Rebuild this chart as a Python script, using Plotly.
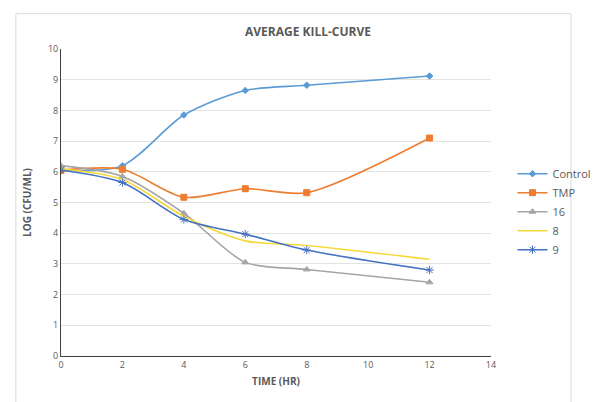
import plotly.graph_objs as go

# datos
tiempo = [0, 2, 4, 6, 8, 12]
control = [6.05, 6.2, 7.85, 8.65, 8.82, 9.12]
tmp = [6.05, 6.08, 5.17, 5.45, 5.32, 7.1]
c16 = [6.2, 5.85, 4.65, 3.05, 2.82, 2.4]
c8 = [6.1, 5.75, 4.55, 3.75, 3.6, 3.15]
c9 = [6.05, 5.65, 4.45, 3.97, 3.45, 2.8]

series = [
    ("Control", control, "#5B9BD5", "diamond", 5),
    ("TMP", tmp, "#ED7D31", "square", 6),
    ("16", c16, "#A5A5A5", "triangle-up", 6),
    ("8", c8, "#F5D836", "circle", 0),
    ("9", c9, "#4472C4", "asterisk-open", 7),
]

GRIS = "#595959"

fig = go.Figure()
for nombre, vals, color, simbolo, tam in series:
    fig.add_trace(go.Scatter(
        x=tiempo, y=vals, name=nombre,
        mode="lines+markers" if tam else "lines",
        line=dict(color=color, width=1.6, shape="spline", smoothing=0.8),
        marker=dict(symbol=simbolo, size=tam, color=color,
                    line=dict(color=color, width=1))
    ))

fig.update_layout(
    width=600, height=402,
    paper_bgcolor="white", plot_bgcolor="white",
    font=dict(family="Open Sans, Arial", color=GRIS, size=9),
    title=dict(text="<b>AVERAGE KILL-CURVE</b>", x=0.5, xanchor="center",
               y=0.94, yanchor="middle", font=dict(size=12, color=GRIS)),
    margin=dict(l=53, r=89, t=41, b=54),
    showlegend=True,
    legend=dict(x=1.05, y=0.47, xanchor="left", yanchor="middle",
                font=dict(size=11, color=GRIS), tracegroupgap=0,
                itemwidth=30, bgcolor="rgba(0,0,0,0)"),
    xaxis=dict(range=[0, 14], dtick=2, showgrid=False, zeroline=False,
               showline=True, linecolor="#404040", linewidth=1,
               ticks="", tickfont=dict(size=9, color=GRIS),
               title=dict(text="<b>TIME (HR)</b>", font=dict(size=10, color=GRIS),
                          standoff=8)),
    yaxis=dict(range=[0, 10], dtick=1, showgrid=True, gridcolor="#E3E3E3",
               zeroline=False, showline=True, linecolor="#404040", linewidth=1,
               ticks="", tickfont=dict(size=9, color=GRIS),
               title=dict(text="<b>LOG (CFU/ML)</b>", font=dict(size=10, color=GRIS),
                          standoff=14)),
    shapes=[dict(type="rect", xref="paper", yref="paper",
                 x0=-0.105, x1=1.186, y0=-0.155, y1=1.115,
                 line=dict(color="#DADADA", width=1))],
)

fig.write_html("out.html")
